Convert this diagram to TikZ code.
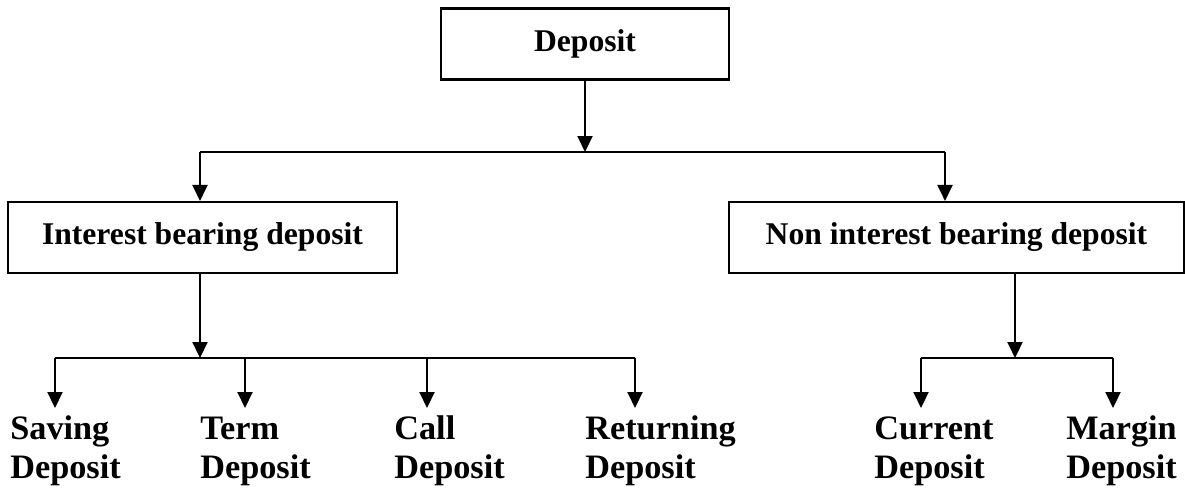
\documentclass[tikz,border=0pt]{standalone}
\usepackage{fontspec}
\setmainfont{Liberation Serif}
\usetikzlibrary{arrows.meta}

\begin{document}
\begin{tikzpicture}[x=0.02cm, y=-0.02cm,
    box/.style={draw, line width=1.2pt, minimum height=1.42cm,
      font=\fontsize{18}{22}\selectfont\bfseries},
    leaf/.style={anchor=north west, inner sep=0pt, align=left,
      font=\fontsize{19.5}{22}\selectfont\bfseries},
    bar/.style={line width=1.2pt},
    arr/.style={line width=1.2pt, -{Triangle[length=0.32cm, width=0.3cm]}}]
  \useasboundingbox (0,0) rectangle (1185,489);
  % Boxes.
  \node[box, minimum width=5.76cm] (dep) at (585,44) {Deposit};
  \node[box, minimum width=7.78cm] (ib) at (202.5,237.5) {Interest bearing deposit};
  \node[box, minimum width=9.1cm] (nib) at (956.5,237.5) {Non interest bearing deposit};
  % First split.
  \coordinate (j0) at (585,152);
  \coordinate (j0l) at (200,152);
  \coordinate (j0r) at (945,152);
  \draw[arr] (dep) -- (j0);
  \draw[bar] (j0l) -- (j0r);
  \draw[arr] (j0l) -- (ib.north -| j0l);
  \draw[arr] (j0r) -- (nib.north -| j0r);
  % Interest bearing branch.
  \coordinate (j1) at (200,358);
  \draw[arr] (ib.south -| j1) -- (j1);
  \foreach \nm/\tx/\ax/\txt in {sav/10/55/Saving, term/200/245/Term,
      call/394/427/Call, ret/585/635/Returning} {
    \node[leaf] (\nm) at (\tx,412) {\strut\txt\\Deposit};
    \coordinate (\nm b) at (\ax,358);
    \draw[arr, shorten >=0.08cm] (\nm b) -- (\nm b |- \nm.north);
  }
  \draw[bar] (savb) -- (retb);
  % Non interest bearing branch.
  \coordinate (j2) at (1015,358);
  \draw[arr] (nib.south -| j2) -- (j2);
  \foreach \nm/\tx/\ax/\txt in {cur/874/921/Current, mar/1066/1113/Margin} {
    \node[leaf] (\nm) at (\tx,412) {\strut\txt\\Deposit};
    \coordinate (\nm b) at (\ax,358);
    \draw[arr, shorten >=0.08cm] (\nm b) -- (\nm b |- \nm.north);
  }
  \draw[bar] (curb) -- (marb);
\end{tikzpicture}
\end{document}
